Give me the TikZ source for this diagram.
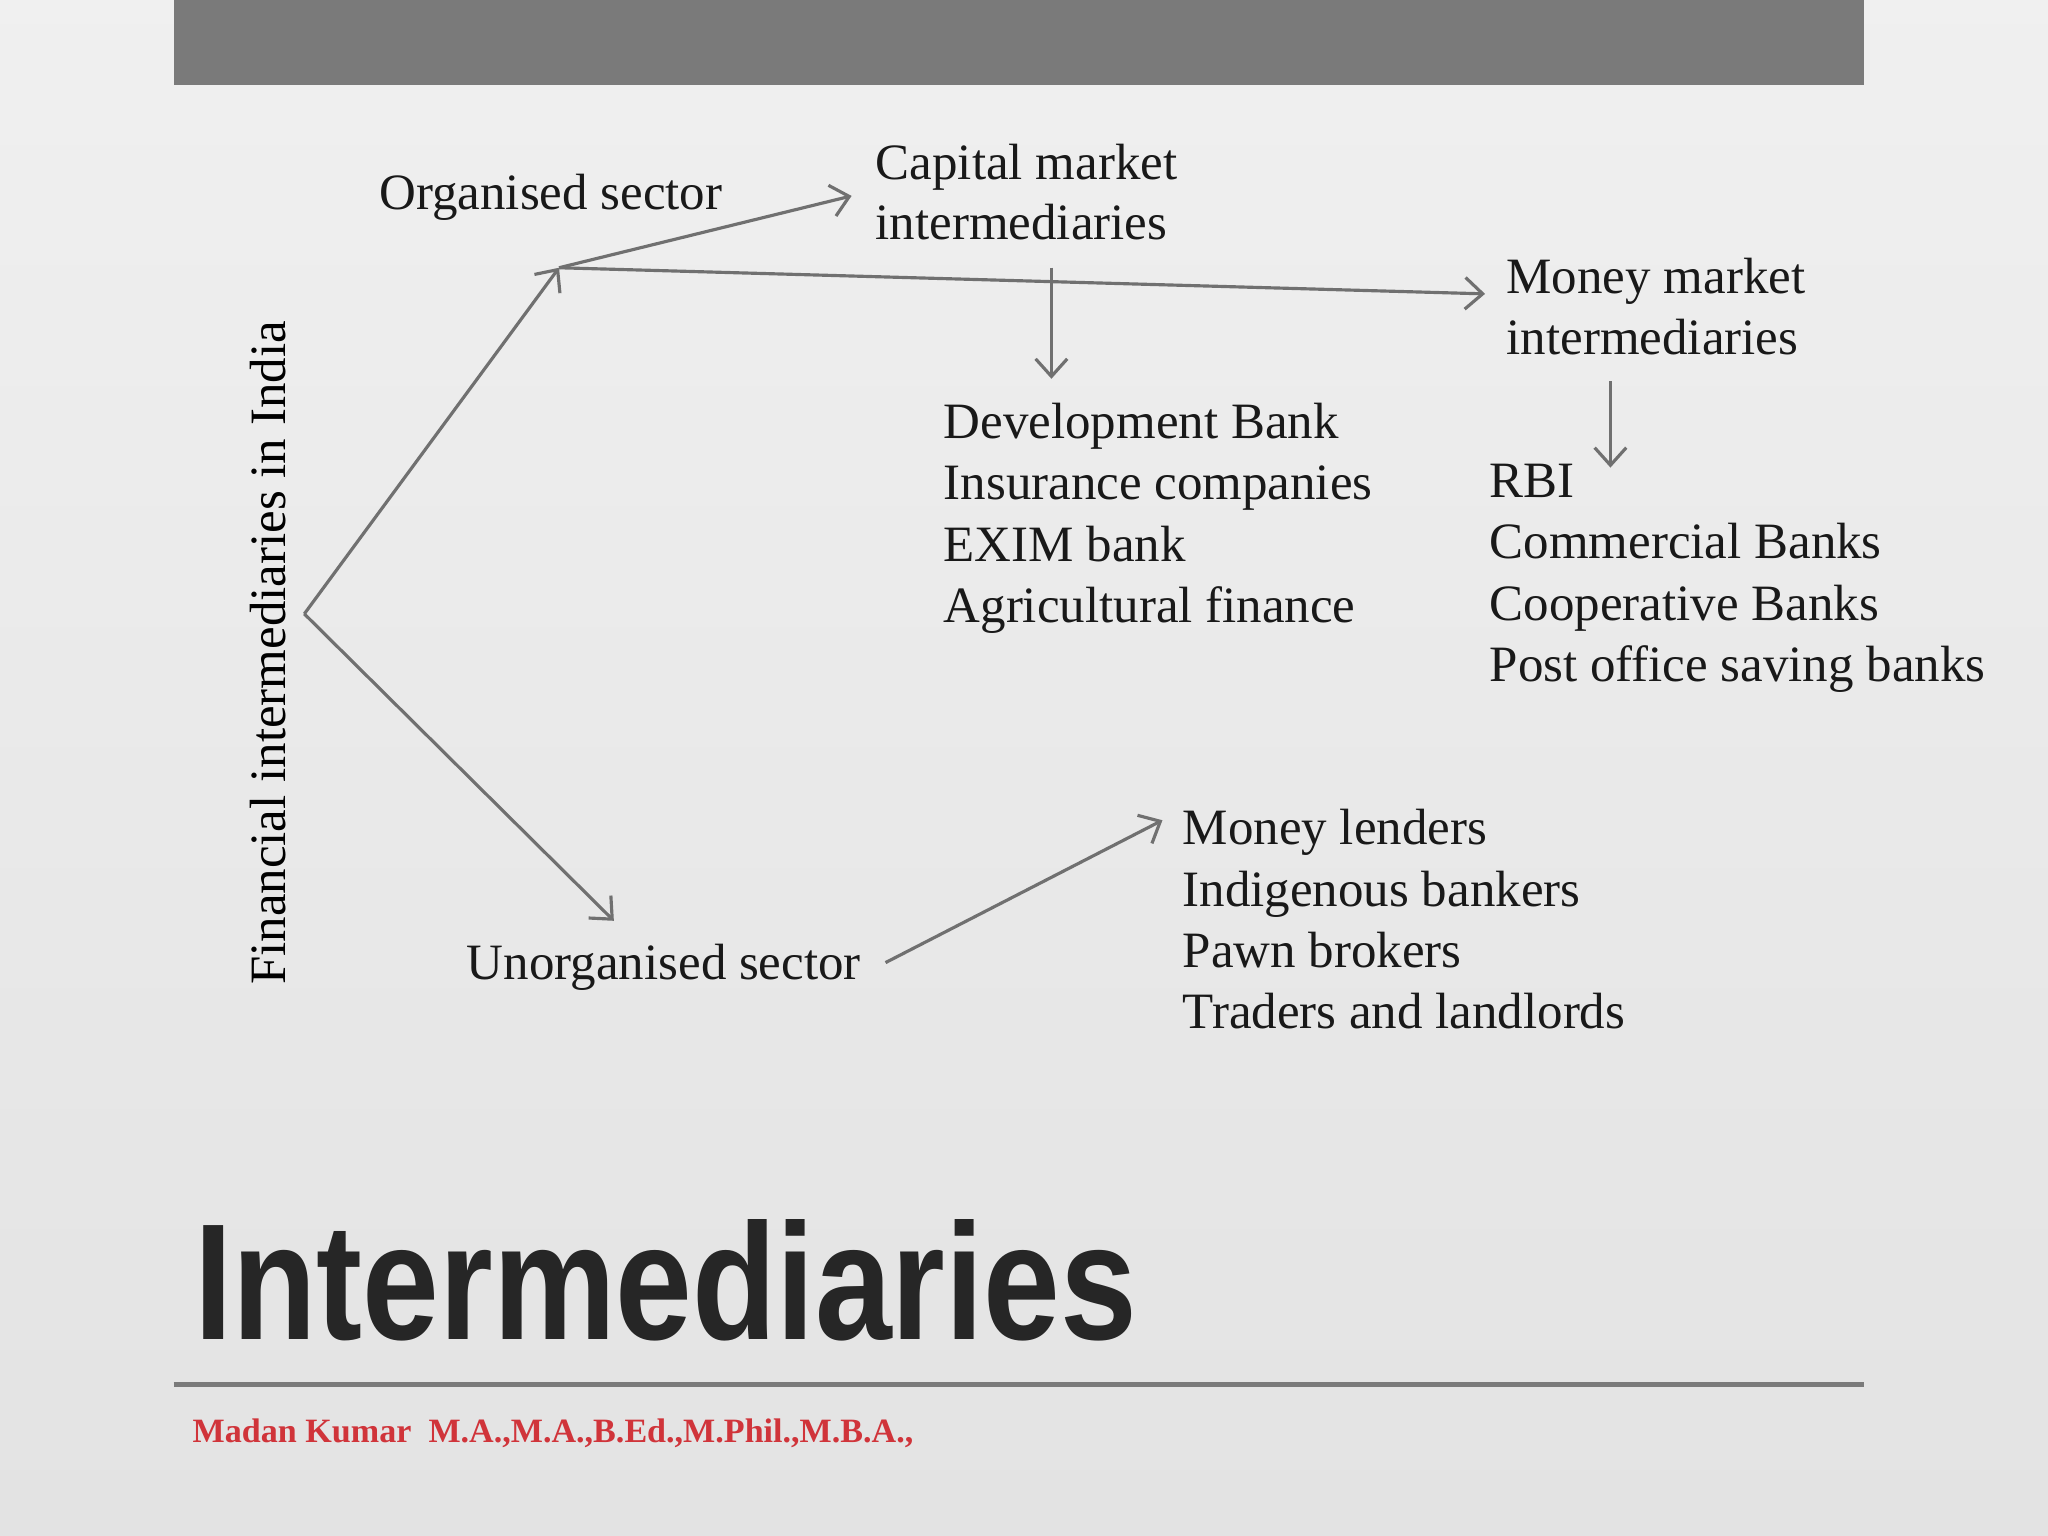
\documentclass[tikz,border=0pt]{standalone}
\usepackage{fontspec}
\setmainfont{Liberation Serif}
\newfontfamily\titlefont{Liberation Sans}
\definecolor{arr}{HTML}{707070}
\definecolor{bar}{HTML}{7A7A7A}
\definecolor{redt}{HTML}{D0343A}
\begin{document}
\begin{tikzpicture}[x=0.01306cm,y=-0.01306cm,
  lbl/.style={anchor=west,inner sep=0pt,font=\fontsize{14.5}{17}\selectfont,text=black!90,text height=0.75em,text depth=0.25em},
  conn/.style={draw=arr,line width=0.9pt,-{Straight Barb[length=5pt,width=9pt]}}]
\usetikzlibrary{arrows.meta}
\shade[top color=gray!12,bottom color=gray!22] (0,0) rectangle (1568,1176);
\useasboundingbox (0,0) rectangle (1568,1176);
\fill[bar] (133,0) rectangle (1427,65);
\draw[bar,line width=1.5pt] (133,1060) -- (1427,1060);
\node[rotate=90,inner sep=0pt,font=\fontsize{14.5}{17}\selectfont] (fin) at (205,500) {Financial intermediaries in India};
\node[lbl] (org) at (290,154) {Organised sector};
\node[lbl] (cap1) at (670,131) {Capital market};
\node[lbl] (cap2) at (670,177) {intermediaries};
\node[lbl] (mon1) at (1153,218) {Money market};
\node[lbl] (mon2) at (1153,265) {intermediaries};
\foreach \t [count=\i] in {Development Bank,Insurance companies,EXIM bank,Agricultural finance}
  \node[lbl] (d\i) at (722,282+47*\i) {\t};
\foreach \t [count=\i] in {RBI,Commercial Banks,Cooperative Banks,Post office saving banks}
  \node[lbl] (r\i) at (1140,327+47*\i) {\t};
\node[lbl] (unorg) at (357,743) {Unorganised sector};
\foreach \t [count=\i] in {Money lenders,Indigenous bankers,Pawn brokers,Traders and landlords}
  \node[lbl] (m\i) at (905,593+47*\i) {\t};
\node[anchor=west,inner sep=0pt] (title) at (148,980) {\resizebox{9.43cm}{1.2cm}{\titlefont\bfseries\color{black!85}Intermediaries}};
\node[anchor=west,inner sep=0pt,text=redt,font=\fontsize{9.7}{12}\selectfont\bfseries] (foot) at (147,1097) {Madan Kumar\ \ M.A.,M.A.,B.Ed.,M.Phil.,M.B.A.,};
\coordinate (root) at (233,470);
\coordinate (o) at (428,205);
\coordinate (capA) at (652,150);
\coordinate (monA) at (1137,225);
\coordinate (cs) at (805,205);
\coordinate (ce) at (805,290);
\coordinate (ms) at (1233,292);
\coordinate (me) at (1233,358);
\coordinate (u) at (470,705);
\coordinate (us) at (678,737);
\coordinate (ue) at (890,628);
\draw[conn] (root) -- (o);
\draw[conn] (root) -- (u);
\draw[conn] (o) -- (capA);
\draw[conn] (o) -- (monA);
\draw[conn] (cs) -- (ce);
\draw[conn] (ms) -- (me);
\draw[conn] (us) -- (ue);
\end{tikzpicture}
\end{document}
